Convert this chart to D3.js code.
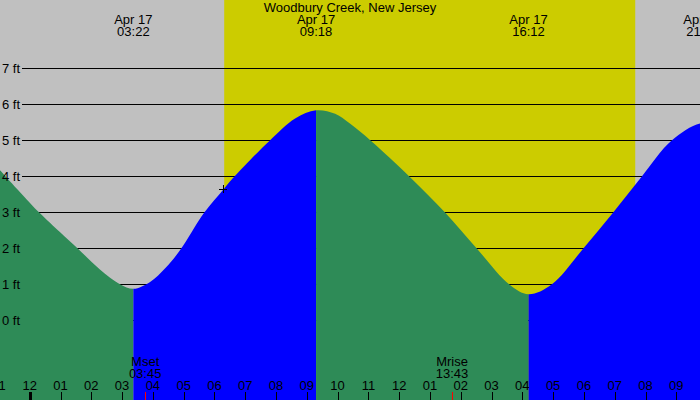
<!DOCTYPE html>
<html><head><meta charset="utf-8">
<script src="https://cdn.jsdelivr.net/npm/d3@7"></script>
<style>html,body{margin:0;padding:0;background:#c0c0c0;}svg{display:block;}text{font-family:"Liberation Sans",Arial,sans-serif;font-size:13px;fill:#000;}</style>
</head><body><svg id="c" width="700" height="400"></svg>
<script>
const title = "Woodbury Creek, New Jersey";
const dateLabel = "Apr 17";
// tide curve: hours since midnight Apr 17, height in ft
const tideHours = [-1.0, 0.31, 0.98, 1.56, 2.28, 2.93, 3.37, 3.91, 4.4, 4.88, 5.67, 6.29, 6.65, 7.8, 8.62, 9.3, 9.92, 10.4, 11.07, 12.33, 13.49, 14.52, 15.58, 16.2, 16.95, 17.98, 18.95, 19.88, 20.85, 21.85, 22.5];
const tideFeet  = [4.21, 3.0, 2.46, 2.0, 1.42, 1.01, 0.88, 1.07, 1.45, 1.95, 3.0, 3.64, 4.0, 5.0, 5.61, 5.84, 5.74, 5.47, 5.0, 4.0, 3.0, 2.0, 1.0, 0.73, 1.0, 2.0, 3.0, 4.0, 5.0, 5.48, 5.3];
// extremes
const extremeTimes = ["03:22", "09:18", "16:12", "21:51"];
const extremeTypes = ["low", "high", "low", "high"];
// sun
const sunrise = "06:19";
const sunset = "19:40";
// moon
const moonEvents = ["Mset", "Mrise"];
const moonTimes = ["03:45", "13:43"];
// axes
const feetTicks = [0, 1, 2, 3, 4, 5, 6, 7];
const hourTicks = d3.range(-1, 23);
const marker = {hour: 6.29, feet: 3.64};

const toH = s => { const [h, m] = s.split(":").map(Number); return h + m / 60; };
const W = 700, H = 400;
const svg = d3.select("#c");
const x = d3.scaleLinear().domain([-0.965, 21.77]).range([0, W]);
const y = d3.scaleLinear().domain([0, 7]).range([320.5, 68.5]);

svg.append("rect").attr("width", W).attr("height", H).attr("fill", "#c0c0c0");
svg.append("rect").attr("x", x(toH(sunrise))).attr("y", 0)
  .attr("width", x(toH(sunset)) - x(toH(sunrise))).attr("height", H).attr("fill", "#cccc00");

// grid lines
svg.selectAll("line.g").data(feetTicks).enter().append("line")
  .attr("x1", 22).attr("x2", W).attr("y1", d => y(d)).attr("y2", d => y(d))
  .attr("stroke", "#000").attr("stroke-width", 1);

// tide area, split into rising/falling segments
const pts = tideHours.map((h, i) => [h, tideFeet[i]]);
const area = d3.area().x(d => x(d[0])).y0(H).y1(d => y(d[1])).curve(d3.curveCatmullRom.alpha(0.5));
const bounds = [tideHours[0], ...extremeTimes.map(toH), tideHours[tideHours.length - 1]];
const defs = svg.append("defs");
for (let i = 0; i < bounds.length - 1; i++) {
  const rising = i > 0 ? extremeTypes[i - 1] === "low" : extremeTypes[0] === "high";
  const id = "clip" + i;
  defs.append("clipPath").attr("id", id).append("rect")
    .attr("x", x(bounds[i])).attr("y", 0).attr("width", x(bounds[i + 1]) - x(bounds[i])).attr("height", H);
  svg.append("path").attr("d", area(pts)).attr("clip-path", `url(#${id})`)
    .attr("fill", rising ? "#0000ff" : "#2e8b57");
}

// marker cross
const mx = x(marker.hour), my = y(marker.feet);
svg.append("path").attr("d", `M${mx - 4},${my}H${mx + 4}M${mx},${my - 4}V${my + 4}`)
  .attr("stroke", "#000").attr("stroke-width", 1).attr("shape-rendering", "crispEdges");

// y labels
svg.selectAll("text.f").data(feetTicks).enter().append("text")
  .attr("x", 2).attr("y", d => y(d) + 4).text(d => d + " ft");

// title
svg.append("text").attr("x", W / 2).attr("y", 12).attr("text-anchor", "middle").text(title);

// extreme labels
extremeTimes.forEach(t => {
  const cx = x(toH(t));
  svg.append("text").attr("x", cx).attr("y", 24).attr("text-anchor", "middle").text(dateLabel);
  svg.append("text").attr("x", cx).attr("y", 36).attr("text-anchor", "middle").text(t);
});

// hour ticks and labels
hourTicks.forEach(h => {
  const hx = Math.round(x(h)) + 0.5;
  const hh = ((h % 12) + 12) % 12;
  const lab = String(hh === 0 ? 12 : hh).padStart(2, "0");
  svg.append("text").attr("x", x(h)).attr("y", 390).attr("text-anchor", "middle").text(lab);
  svg.append("line").attr("x1", hx).attr("x2", hx).attr("y1", 392).attr("y2", H)
    .attr("stroke", "#000").attr("stroke-width", h === 0 ? 3 : 1);
});

// moon events
moonEvents.forEach((e, i) => {
  const t = moonTimes[i];
  const mxp = x(toH(t));
  svg.append("text").attr("x", mxp).attr("y", 366).attr("text-anchor", "middle").text(e);
  svg.append("text").attr("x", mxp).attr("y", 378).attr("text-anchor", "middle").text(t);
  const lx = Math.round(mxp) + 0.5;
  svg.append("line").attr("x1", lx).attr("x2", lx).attr("y1", 392).attr("y2", H)
    .attr("stroke", "#ff0000").attr("stroke-width", 1);
});
</script></body></html>
